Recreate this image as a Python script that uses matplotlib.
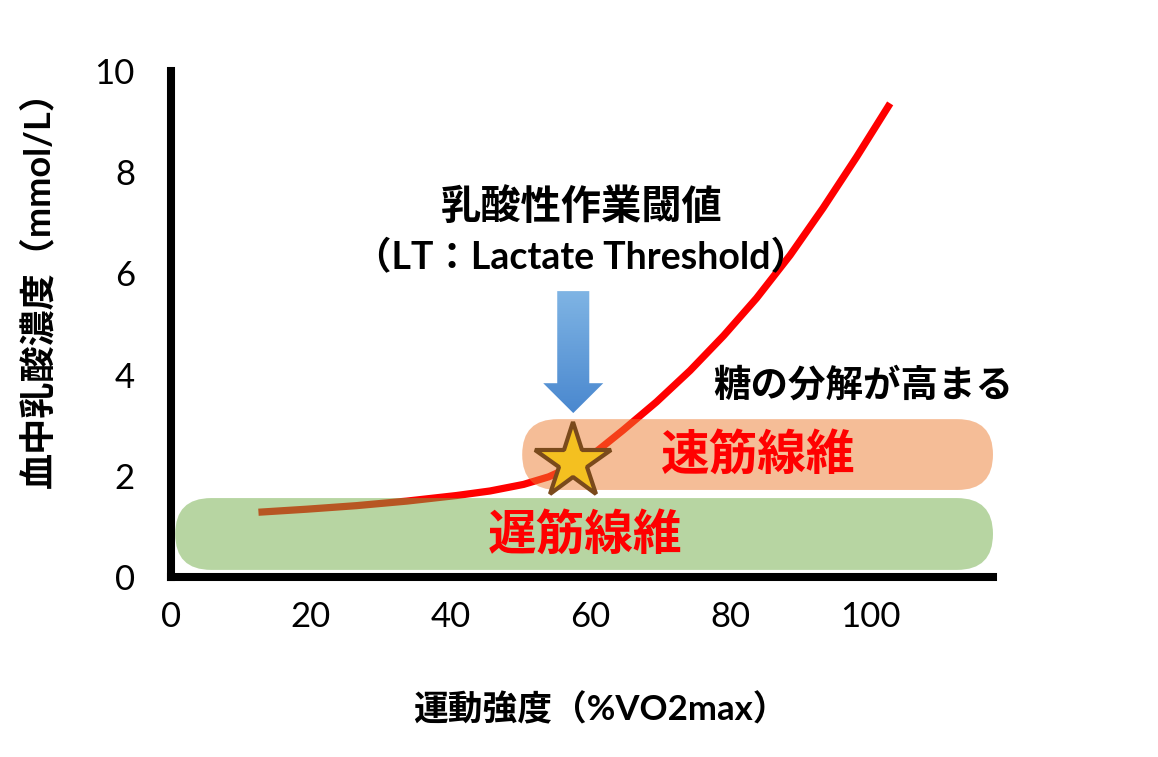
import numpy as np
import matplotlib.pyplot as plt
from matplotlib.patches import FancyBboxPatch, FancyArrow
from matplotlib.colors import LinearSegmentedColormap

# lactate curve (%VO2max, mmol/L)
intensity = [12.5, 19.4, 26.5, 33.7, 40.8, 45.6, 50.4, 54.0, 57.5, 61.0,
             64.6, 69.4, 74.2, 79.0, 83.7, 88.5, 93.2, 98.0, 102.8]
lactate = [1.28, 1.34, 1.41, 1.50, 1.61, 1.70, 1.83, 1.98, 2.20, 2.50,
           2.90, 3.46, 4.08, 4.77, 5.51, 6.36, 7.29, 8.30, 9.36]

# lactate threshold point
lt_x = 57.5
lt_y = 2.27

# fibre bands: (x start, x end, y low, y high)
slow_band = (0.6, 117.5, 0.14, 1.56)
fast_band = (50.2, 117.5, 1.72, 3.12)

xticks = [0, 20, 40, 60, 80, 100]
yticks = [0, 2, 4, 6, 8, 10]

cjk = 'Noto Sans CJK JP'
mixed = ['Lato', 'Noto Sans CJK JP']

fig = plt.figure(figsize=(11.58, 7.57), dpi=100)
ax = fig.add_axes([171/1158, 1-577/757, 822/1158, 506/757])
ax.set_xlim(0, 117.5)
ax.set_ylim(0, 10)

for s in ['top', 'right']:
    ax.spines[s].set_visible(False)
for s in ['left', 'bottom']:
    ax.spines[s].set_linewidth(5.8)
    ax.spines[s].set_color('black')

ax.set_xticks(xticks)
ax.set_yticks(yticks)
ax.tick_params(length=0, labelsize=25)
ax.tick_params(axis='x', pad=17)
ax.tick_params(axis='y', pad=26)
for lab in ax.get_xticklabels() + ax.get_yticklabels():
    lab.set_family(mixed)

ax.set_xlabel('運動強度（%VO2max）', family=mixed, fontsize=25, fontweight='bold')
ax.xaxis.set_label_coords(0.522, -0.229)
ax.set_ylabel('血中乳酸濃度（mmol/L）', family=mixed, fontsize=26, fontweight='bold')
ax.yaxis.set_label_coords(-0.141, 0.585)

# curve
ax.plot(intensity, lactate, color='#FF0000', lw=5.2, solid_capstyle='butt',
        solid_joinstyle='round', zorder=2)

# rounded bands, radius in pixels turned into data units
fig.canvas.draw()
p0 = ax.transData.transform((0, 0))
p1 = ax.transData.transform((1, 1))
px_x = p1[0] - p0[0]
px_y = p1[1] - p0[1]
aspect = px_x / px_y

for (x0, x1, y0, y1), col in [(slow_band, '#70AD47'), (fast_band, '#ED7D31')]:
    h_px = (y1 - y0) * px_y
    r = (h_px / 2) / px_x
    box = FancyBboxPatch((x0, y0), x1 - x0, y1 - y0,
                         boxstyle='round,pad=0,rounding_size=%f' % r,
                         mutation_aspect=aspect,
                         facecolor=col, edgecolor='none', alpha=0.5, zorder=3)
    ax.add_patch(box)

# LT star
ax.plot([lt_x], [lt_y], marker='*', markersize=57, markerfacecolor='#F4C020',
        markeredgecolor='#7A4A1C', markeredgewidth=3, zorder=6)

# blue arrow with vertical gradient
arrow = FancyArrow(lt_x, 5.65, 0, 3.24 - 5.65, width=4.58, head_width=8.58,
                   head_length=0.59, length_includes_head=True,
                   facecolor='none', edgecolor='none', zorder=5)
ax.add_patch(arrow)
cmap = LinearSegmentedColormap.from_list('blu', ['#4A88CF', '#7FB4E4'])
grad = np.linspace(0, 1, 100).reshape(-1, 1)
im = ax.imshow(grad, cmap=cmap, origin='lower', aspect='auto',
               extent=(lt_x - 4.3, lt_x + 4.3, 3.24, 5.65), zorder=5)
im.set_clip_path(arrow)
ax.set_xlim(0, 117.5)
ax.set_ylim(0, 10)

# texts
ax.text(58.7, 7.31, '乳酸性作業閾値', family=cjk, fontsize=29, fontweight='bold',
        ha='center', va='center')
ax.text(58.6, 6.32, '（LT：Lactate Threshold）', family=mixed, fontsize=27,
        fontweight='bold', ha='center', va='center')
ax.text(99.0, 3.79, '糖の分解が高まる', family=cjk, fontsize=27, fontweight='bold',
        ha='center', va='center')
ax.text(83.9, 2.41, '速筋線維', family=cjk, fontsize=35, fontweight='bold',
        color='#FF0000', ha='center', va='center', zorder=7)
ax.text(59.2, 0.83, '遅筋線維', family=cjk, fontsize=35, fontweight='bold',
        color='#FF0000', ha='center', va='center', zorder=7)

fig.savefig('out.png', dpi=100)
